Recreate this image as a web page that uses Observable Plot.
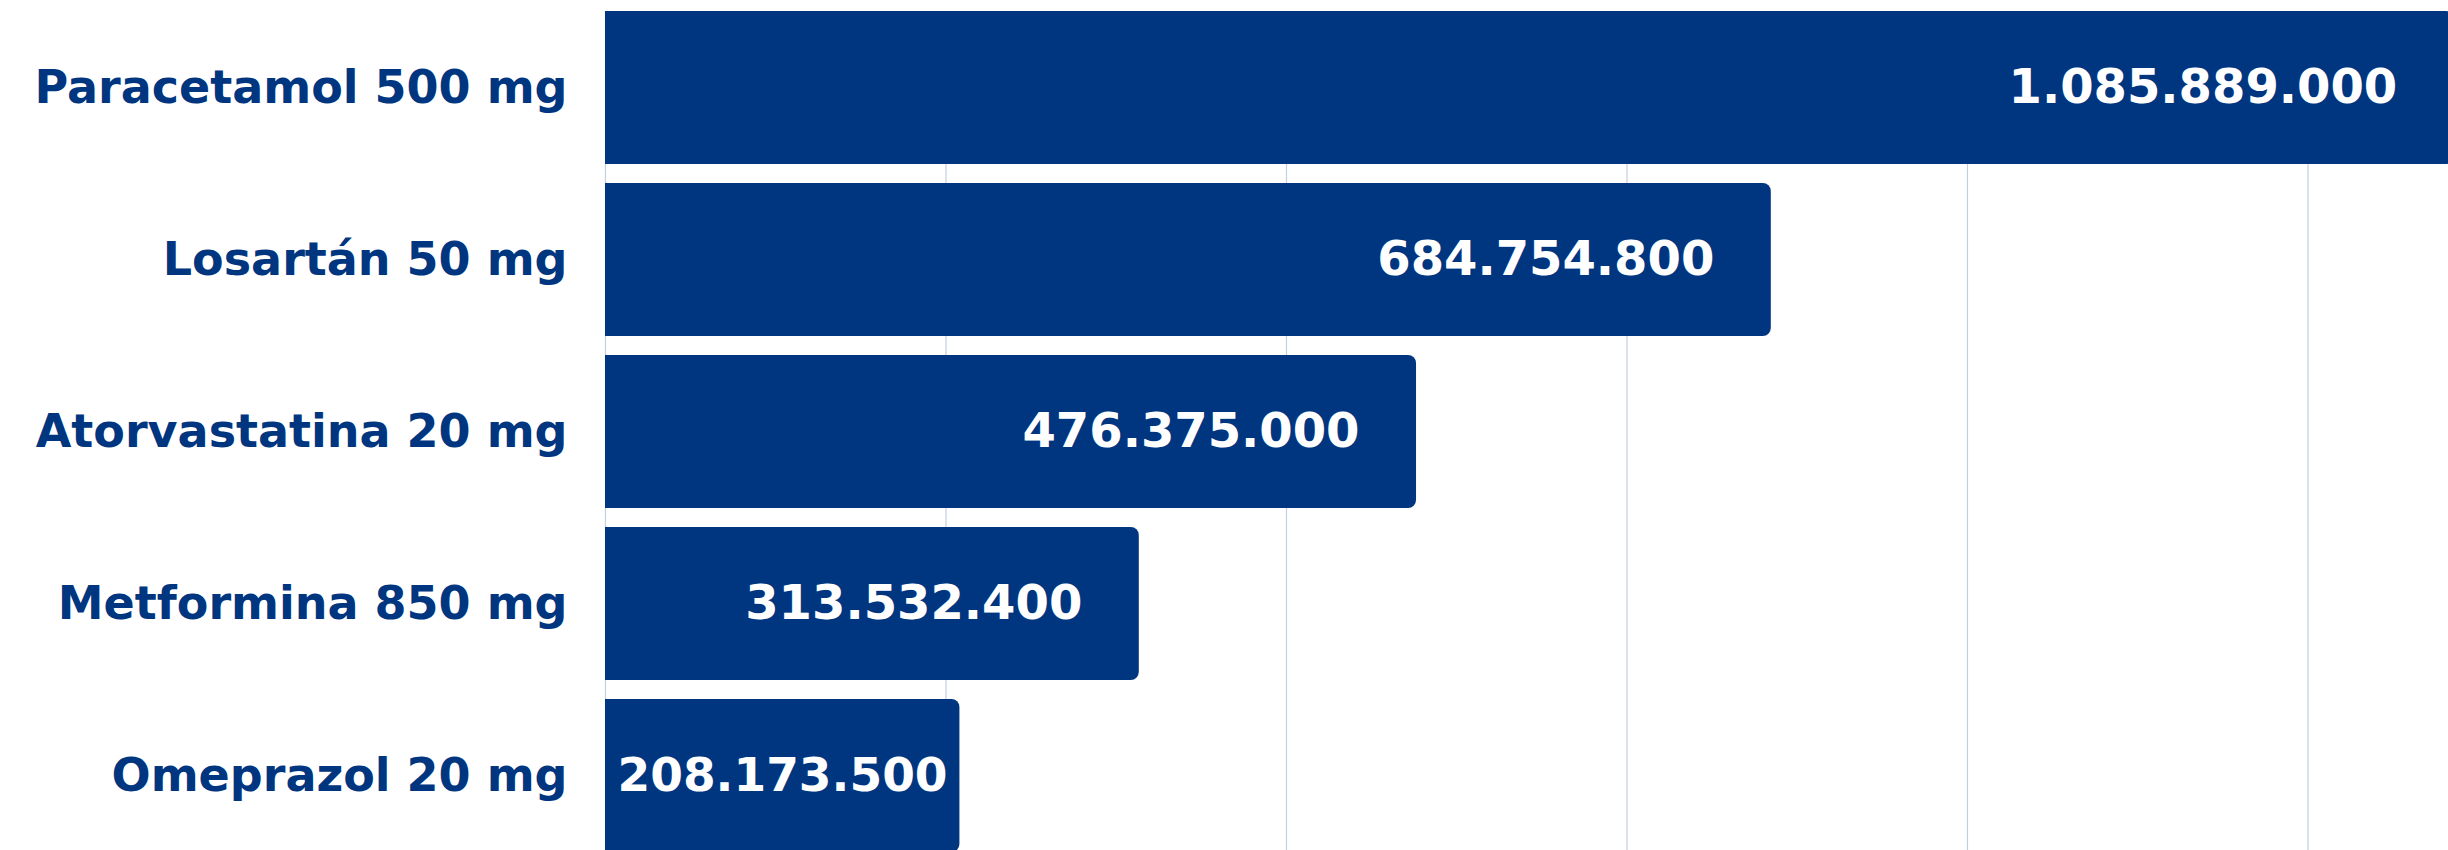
<!DOCTYPE html>
<html>
<head>
<meta charset="utf-8">
<script src="https://cdn.jsdelivr.net/npm/d3@7"></script>
<script src="https://cdn.jsdelivr.net/npm/@observablehq/plot@0.6"></script>
<style>
  html, body { margin: 0; padding: 0; background: #ffffff; overflow: hidden; }
  #chart svg { display: block; }
</style>
</head>
<body>
<div id="chart"></div>
<script>
// Data
const categories = ["Paracetamol 500 mg", "Losartán 50 mg", "Atorvastatina 20 mg", "Metformina 850 mg", "Omeprazol 20 mg"];
const values = [1085889000, 684754800, 476375000, 313532400, 208173500];
const gridTicks = [0, 200000000, 400000000, 600000000, 800000000, 1000000000];

const data = categories.map((name, i) => ({name, value: values[i]}));

const navy = "#003580";
const fmt = d3.formatLocale({decimal: ",", thousands: ".", grouping: [3], currency: ["", ""]}).format(",d");

const W = 2448, H = 850;
const x0 = 605, stepPx = 340.5; // px per 200M

const plot = Plot.plot({
  width: W,
  height: H,
  marginLeft: x0,
  marginRight: 0,
  marginTop: 11,
  marginBottom: 0,
  style: {fontFamily: "'DejaVu Sans', sans-serif", background: "#ffffff"},
  x: {domain: [0, 1000000000], range: [x0, x0 + 5 * stepPx], axis: null},
  y: {domain: categories, range: [11, 853], paddingInner: 0.11, paddingOuter: 0, label: null},
  marks: [
    Plot.gridX(gridTicks, {stroke: "#c3cfdf", strokeOpacity: 1, strokeWidth: 1.2}),
    Plot.barX(data, {x: "value", y: "name", fill: navy, rx2: 8}),
    Plot.axisY({tickSize: 0, tickPadding: 38, fontSize: 46, fontWeight: 700, color: navy, label: null}),
    Plot.text(data.filter(d => d.value >= 300000000), {
      x: "value", y: "name", text: d => fmt(d.value),
      textAnchor: "end", dx: -57, fill: "white", fontSize: 48, fontWeight: 700
    }),
    Plot.text(data.filter(d => d.value < 300000000), {
      x: 0, y: "name", text: d => fmt(d.value),
      textAnchor: "start", dx: 12, fill: "white", fontSize: 47, fontWeight: 700
    })
  ]
});

document.getElementById("chart").appendChild(plot);
</script>
</body>
</html>
